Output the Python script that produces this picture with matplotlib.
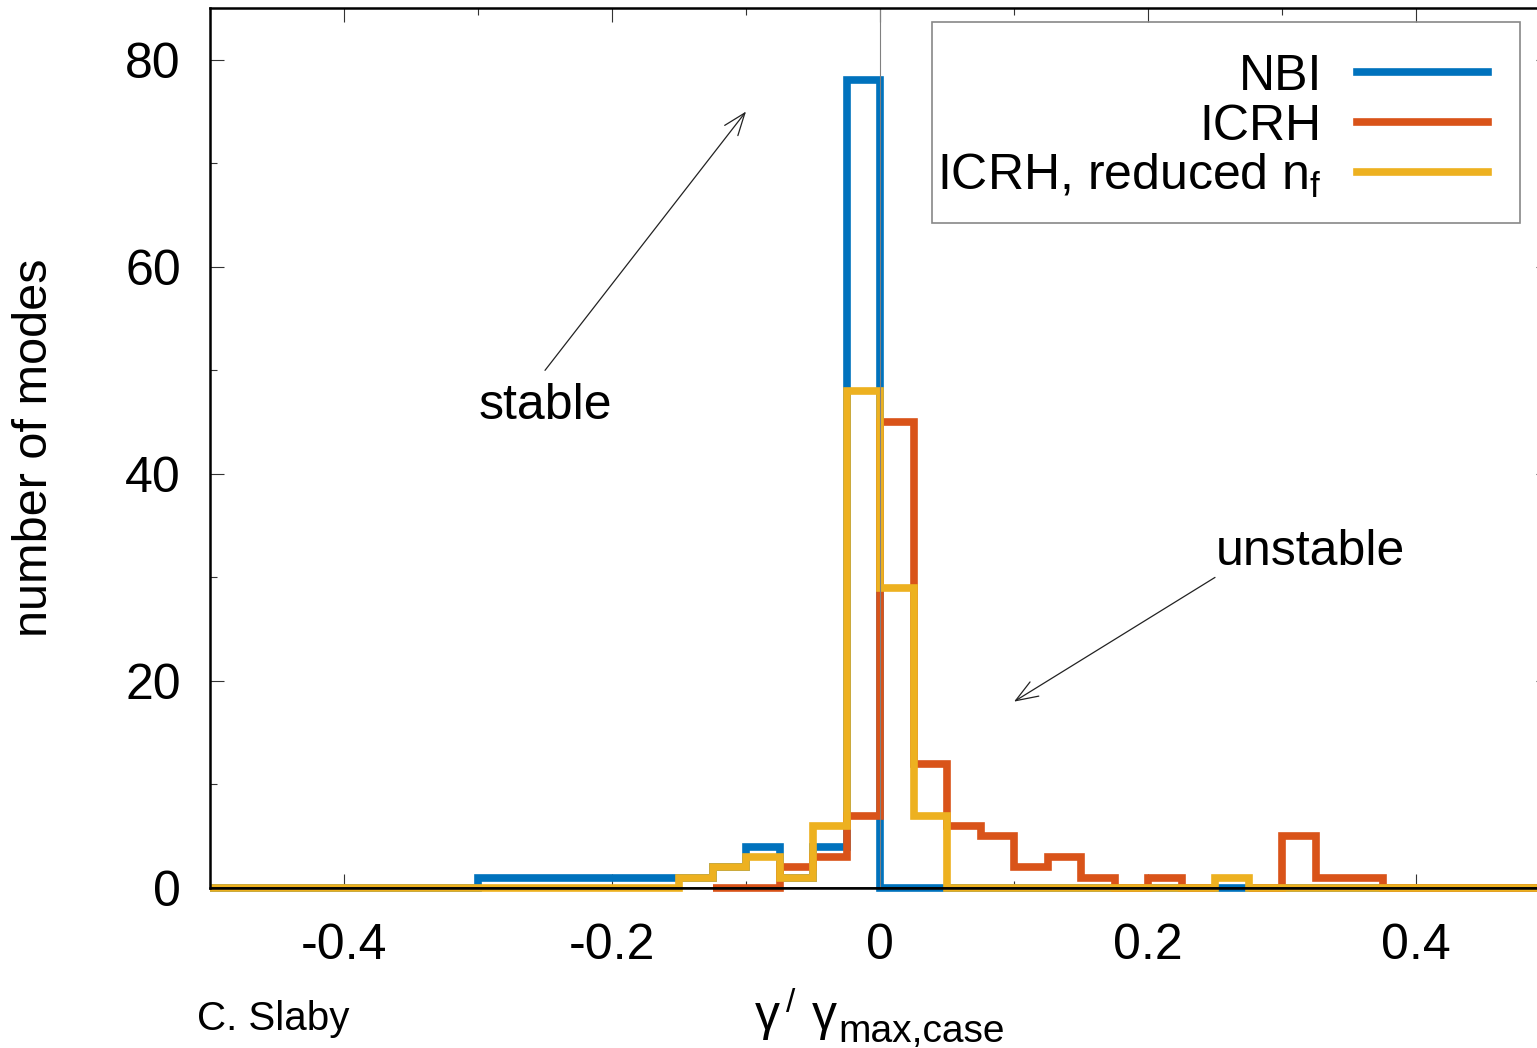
import numpy as np
import matplotlib
matplotlib.use("Agg")
import matplotlib.pyplot as plt
from matplotlib.lines import Line2D
from matplotlib.patches import Rectangle

plt.rcParams['font.family'] = ['Liberation Sans', 'DejaVu Sans']
plt.rcParams['mathtext.fontset'] = 'custom'
plt.rcParams['mathtext.rm'] = 'Liberation Sans'
plt.rcParams['mathtext.it'] = 'Liberation Sans'

# growth rate histogram, bins of width 0.025 in gamma / gamma_max
# (nan = bin not present in that run's output)
bin_width = 0.025
nbi_start = -0.5
nbi_counts = [0, 0, 0, 0, 0, 0, 0, 0,
              1, 1, 1, 1, 1, 1, 1,
              2, 4, 1, 4, 78,
              0, 0, 0, 0, 0, 0, 0, 0, 0, 0,
              0, 0, 0, 0, 0, 0, 0, 0, 0, 0]
icrh_start = -0.125
icrh_counts = [0, 0, 2, 3, 7,
               45, 12, 6, 5, 2, 3, 1, 0, 1, 0,
               np.nan, 0, 5, 1, 1, 0, 0, 0, 0, 0]
icrh_red_start = -0.5
icrh_red_counts = [0, 0, 0, 0, 0, 0, 0, 0, 0, 0, 0, 0, 0, 0,
                   1, 2, 3, 1, 6, 48,
                   29, 7, 0, 0, 0, 0, 0, 0, 0, 0,
                   1, 0, 0, 0, 0, 0, 0, 0, 0, 0]

labels = ['NBI', 'ICRH', r'ICRH, reduced $\mathrm{n_f}$']
colors = ['#0072BD', '#D95319', '#EDB120']

xticks = [-0.4, -0.2, 0, 0.2, 0.4]
xticklabels = ['-0.4', '-0.2', '0', '0.2', '0.4']
xminor = [-0.5, -0.3, -0.1, 0.1, 0.3, 0.5]
yticks = [0, 20, 40, 60, 80]
yminor = [10, 30, 50, 70]

W, H = 1537, 1048
fig = plt.figure(figsize=(W / 100, H / 100), dpi=100)
ax = fig.add_axes([210 / W, 160 / H, 1340 / W, 880 / H])

series = [(nbi_start, nbi_counts), (icrh_start, icrh_counts),
          (icrh_red_start, icrh_red_counts)]
for (start, counts), c in zip(series, colors):
    edges = start + bin_width * np.arange(len(counts) + 1)
    ax.stairs(counts, edges, baseline=None, color=c, lw=5.5, clip_on=False,
              zorder=3)

ax.set_xlim(-0.5, 0.5)
ax.set_ylim(0, 85)

ax.axvline(0, color='#808080', lw=0.8, zorder=6)
ax.axhline(0, color='k', lw=1.2, zorder=6)

for s in ax.spines.values():
    s.set_linewidth(1.8)
    s.set_zorder(6)

ax.set_xticks(xticks)
ax.set_xticklabels(xticklabels)
ax.set_xticks(xminor, minor=True)
ax.set_yticks(yticks)
ax.set_yticks(yminor, minor=True)
ax.tick_params(which='both', direction='in', top=True, right=True,
               width=0.8, color='#333333', labelsize=36)
ax.tick_params(which='major', length=10)
ax.tick_params(which='minor', length=5)
ax.tick_params(axis='x', pad=25)
ax.tick_params(axis='y', pad=21)

fig.text(35 / W, 1 - 448 / H, 'number of modes', rotation=90, ha='center',
         va='center', fontsize=35)

# annotations
arrow = dict(arrowstyle='->,head_length=0.8,head_width=0.3', lw=0.9,
             color='#222222', shrinkA=0, shrinkB=0, mutation_scale=20)
ax.annotate('', xy=(-0.1, 75), xytext=(-0.25, 50), arrowprops=arrow)
ax.text(-0.25, 46.6, 'stable', ha='center', va='center', fontsize=36)
ax.annotate('', xy=(0.1, 18), xytext=(0.25, 30), arrowprops=arrow)
ax.text(0.321, 32.5, 'unstable', ha='center', va='center', fontsize=36)

# legend box, labels right-aligned with line samples on the right
fig.add_artist(Rectangle((932 / W, 1 - 223 / H), 588 / W, 201 / H,
                         transform=fig.transFigure, fill=False,
                         edgecolor='#888888', lw=1.2, zorder=7))
for i, (lab, c) in enumerate(zip(labels, colors)):
    yl = 72 + 50 * i
    fig.text(1322 / W, 1 - (yl + 18) / H, lab, ha='right', va='baseline',
             fontsize=36, zorder=8)
    fig.add_artist(Line2D([1357 / W, 1488 / W], [1 - yl / H, 1 - yl / H],
                          transform=fig.transFigure, color=c, lw=5.5,
                          zorder=8))

fig.text(197 / W, 1 - 1030 / H, 'C. Slaby', fontsize=29, va='baseline')
fig.text(755 / W, 1 - 1030 / H, 'γ', fontsize=36, va='baseline')
fig.text(786 / W, 1 - 1012 / H, '/', fontsize=24, va='baseline')
fig.text(812 / W, 1 - 1030 / H, 'γ', fontsize=36, va='baseline')
fig.text(838 / W, 1 - 1042 / H, 'max,case', fontsize=28, va='baseline')

fig.savefig('out.png', dpi=100)
